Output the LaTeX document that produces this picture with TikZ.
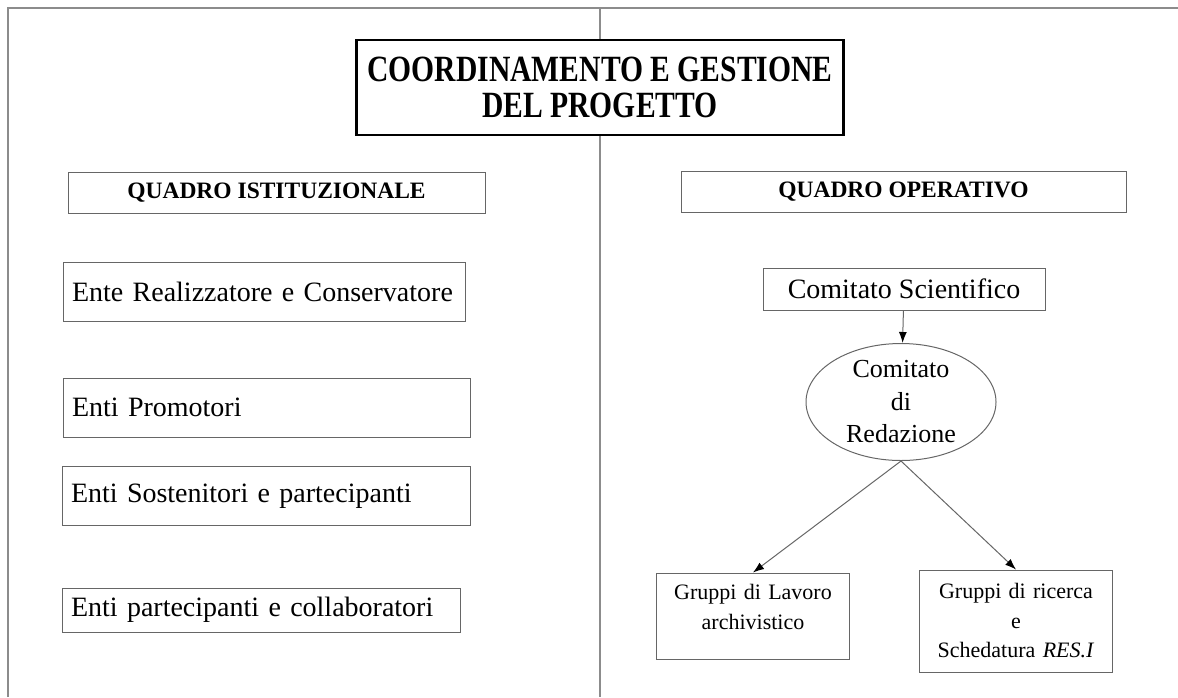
\documentclass[tikz,border=0pt]{standalone}
\usepackage{fontspec}
\setmainfont{Liberation Serif}
\newfontfamily\titlefont[FakeStretch=0.8]{Liberation Serif}
\usetikzlibrary{positioning,shapes.geometric,arrows.meta}
\tikzset{
  frame/.style={draw=black!45, line width=1.3pt},
  titlebox/.style={draw, line width=2.2pt, minimum width=487pt, minimum height=95pt,
    align=center, font=\titlefont\bfseries\fontsize{37}{36}\selectfont},
  headbox/.style={draw=black!60, line width=1pt, minimum height=41pt,
    font=\bfseries\fontsize{23.5}{28}\selectfont},
  entebox/.style={draw=black!60, line width=1pt, minimum height=59pt, inner xsep=9pt,
    text width=#1, align=left, font=\fontsize{28}{32}\selectfont},
  opbox/.style={draw=black!60, line width=1pt, font=\fontsize{28}{32}\selectfont},
  gruppobox/.style={draw=black!60, line width=1pt, minimum width=193pt, text width=185pt,
    inner xsep=4pt, align=center, font=\fontsize{22}{29.5}\selectfont},
  freccia/.style={draw=black!60, line width=1pt}
}
\begin{document}
\begin{tikzpicture}[x=1pt,y=-1pt,>={Latex[length=11pt,width=8pt,color=black]},on grid]
  \useasboundingbox (0,0) rectangle (1178,697);
  % cornice
  \coordinate (tl) at (8,8);
  \coordinate (tr) at (1178,8);
  \coordinate (bl) at (8,697);
  \coordinate (topmid) at (600,8);
  \coordinate (botmid) at (600,697);
  \node[titlebox] (titolo) at (600,87.5) {COORDINAMENTO E GESTIONE\\DEL PROGETTO};
  \draw[frame] (bl) -- (tl) -- (tr);
  \draw[frame] (topmid) -- (titolo.north);
  \draw[frame] (titolo.south) -- (botmid);
  % quadro istituzionale
  \node[headbox, minimum width=417pt] (istituz) at (276.5,192.5) {QUADRO ISTITUZIONALE};
  \node[entebox=384pt] (ente) at (264,291.5) {Ente Realizzatore e Conservatore};
  \node[entebox=389pt] (promotori) at (266.5,407.5) {Enti Promotori};
  \node[entebox=390pt] (sostenitori) at (266,496) {Enti Sostenitori e partecipanti};
  \node[entebox=380pt, minimum height=44pt] (partecip) at (261,610) {Enti partecipanti e collaboratori};
  % quadro operativo
  \node[headbox, minimum width=445pt] (operat) at (903.5,192) {QUADRO OPERATIVO};
  \node[opbox, minimum width=282pt, minimum height=42pt] (scient) at (904,289) {Comitato Scientifico};
  \node[ellipse, draw=black!60, line width=1pt, minimum width=190pt, minimum height=117pt,
    inner sep=0pt, align=center, font=\fontsize{26}{32.5}\selectfont]
    (redaz) [below=113pt of scient, xshift=-3pt] {Comitato\\di\\Redazione};
  \node[gruppobox, minimum height=86pt, text depth=48pt] (lavoro) [below left=214pt and 148pt of redaz]
    {Gruppi di Lavoro\\archivistico};
  \node[gruppobox, minimum height=102pt] (ricerca) [below right=219pt and 115pt of redaz]
    {Gruppi di ricerca\\e\\Schedatura \textit{RES.I}};
  \path[->]
    (scient) edge[freccia] (redaz)
    (redaz.south) edge[freccia] (lavoro.north)
    (redaz.south) edge[freccia] (ricerca.north);
\end{tikzpicture}
\end{document}
